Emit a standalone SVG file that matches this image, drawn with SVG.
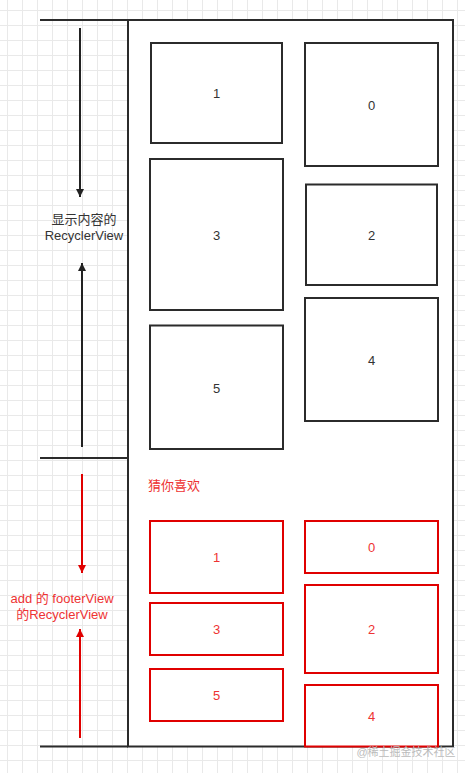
<svg xmlns="http://www.w3.org/2000/svg" width="465" height="773" viewBox="0 0 465 773">
<defs>
<pattern id="grid" x="7" y="10" width="15" height="15" patternUnits="userSpaceOnUse">
<path d="M0 0.5H15M0.5 0V15" fill="none" stroke="#e9e9e9" stroke-width="1"/>
</pattern>
<marker id="ab" viewBox="0 0 10 10" refX="10" refY="5" markerWidth="8" markerHeight="13" markerUnits="userSpaceOnUse" orient="auto">
<path d="M0 0L10 5L0 10Z" fill="#222"/>
</marker>
<marker id="ar" viewBox="0 0 10 10" refX="10" refY="5" markerWidth="8" markerHeight="13" markerUnits="userSpaceOnUse" orient="auto">
<path d="M0 0L10 5L0 10Z" fill="#e00000"/>
</marker>
</defs>
<style>
.bx{fill:#fff;stroke:#2b2b2b;stroke-width:2}
.rx{fill:#fff;stroke:#e00000;stroke-width:2}
.lb{font-family:"Liberation Sans","Noto Sans CJK SC",sans-serif;font-size:13px;fill:#333;text-anchor:middle;dominant-baseline:central}
.rl{font-family:"Liberation Sans","Noto Sans CJK SC",sans-serif;font-size:13px;fill:#e33;text-anchor:middle;dominant-baseline:central}
.ln{stroke:#2b2b2b;stroke-width:2;fill:none}
</style>
<rect width="465" height="773" fill="#fff"/>
<rect width="465" height="773" fill="url(#grid)"/>
<g id="container">
<rect x="128" y="20" width="325" height="726.5" fill="#fff" stroke="#2b2b2b" stroke-width="2"/>
</g>
<g id="connectors">
<line class="ln" x1="40" y1="20" x2="128" y2="20"/>
<line class="ln" x1="40" y1="458" x2="128" y2="458"/>
<line class="ln" x1="40" y1="746.5" x2="128" y2="746.5"/>
<line x1="80" y1="28" x2="80" y2="197" stroke="#222" stroke-width="2" marker-end="url(#ab)"/>
<line x1="82" y1="447" x2="82" y2="263" stroke="#222" stroke-width="2" marker-end="url(#ab)"/>
<line x1="82" y1="474" x2="82" y2="573" stroke="#e00000" stroke-width="2" marker-end="url(#ar)"/>
<line x1="80" y1="738" x2="80" y2="629" stroke="#e00000" stroke-width="2" marker-end="url(#ar)"/>
</g>
<g id="label-content">
<text class="lb" x="84" y="219">显示内容的</text>
<text class="lb" x="84" y="235">RecyclerView</text>
</g>
<g id="label-footer">
<text class="rl" x="62" y="598">add 的 footerView</text>
<text class="rl" x="62" y="614">的RecyclerView</text>
</g>
<g id="b1"><rect class="bx" x="151" y="43" width="131" height="100"/><text class="lb" x="216.5" y="93">1</text></g>
<g id="b0"><rect class="bx" x="305" y="43" width="133" height="123"/><text class="lb" x="371.5" y="105">0</text></g>
<g id="b3"><rect class="bx" x="150" y="159" width="133" height="151"/><text class="lb" x="216.5" y="235">3</text></g>
<g id="b2"><rect class="bx" x="306" y="184.5" width="131" height="100.5"/><text class="lb" x="371.5" y="235">2</text></g>
<g id="b4"><rect class="bx" x="305" y="298" width="133" height="123"/><text class="lb" x="371.5" y="360">4</text></g>
<g id="b5"><rect class="bx" x="150" y="325.5" width="133" height="123.5"/><text class="lb" x="216.5" y="388">5</text></g>
<g id="title-guess"><text class="rl" x="148" y="485" style="text-anchor:start">猜你喜欢</text></g>
<g id="r1"><rect class="rx" x="150" y="521" width="133" height="72"/><text class="rl" x="216.5" y="557">1</text></g>
<g id="r0"><rect class="rx" x="305" y="521" width="133" height="52"/><text class="rl" x="371.5" y="547">0</text></g>
<g id="r3"><rect class="rx" x="150" y="603" width="133" height="52"/><text class="rl" x="216.5" y="629">3</text></g>
<g id="r2"><rect class="rx" x="305" y="585" width="133" height="88"/><text class="rl" x="371.5" y="629">2</text></g>
<g id="r5"><rect class="rx" x="150" y="669" width="133" height="52"/><text class="rl" x="216.5" y="695">5</text></g>
<g id="r4"><rect class="rx" x="305" y="685" width="133" height="61.5"/><text class="rl" x="371.5" y="716">4</text></g>
<text x="406" y="752" font-family="'Liberation Sans','Noto Sans CJK SC',sans-serif" font-size="11" fill="#bbb" text-anchor="middle" dominant-baseline="central">@稀土掘金技术社区</text>
</svg>
